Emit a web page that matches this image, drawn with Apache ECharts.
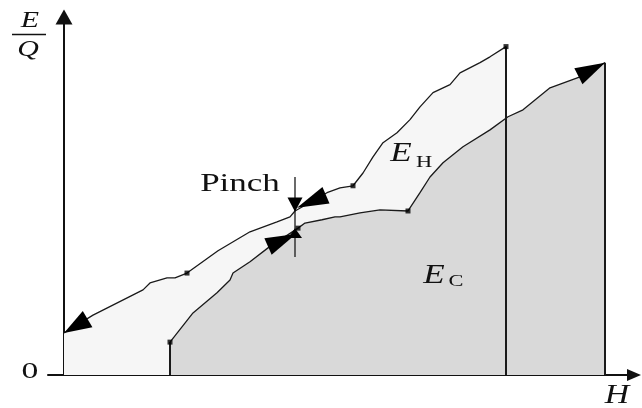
<!DOCTYPE html>
<html>
<head>
<meta charset="utf-8">
<script src="https://cdn.jsdelivr.net/npm/echarts@6/dist/echarts.min.js"></script>
<style>
  html, body { margin: 0; padding: 0; background: #fff; }
  #chart { width: 642px; height: 408px; }
</style>
</head>
<body>
<div id="chart"></div>
<script>
// Hot composite curve E_H (enthalpy H vs. E/Q)
const hotH = [0, 7.25, 19.75, 21.5, 25.75, 27.75, 30.75, 38.5, 46.5, 53.25, 56.5, 57.75, 65.75, 69, 72.25, 74.75, 77.25, 79.75, 83.25, 86.5, 89, 92.25, 96.5, 99, 104, 106.5, 110.5];
const hotE = [11.5, 16.4, 23.3, 25.2, 26.6, 26.6, 27.9, 34.0, 39.2, 41.9, 43.3, 44.9, 49.9, 51.2, 51.8, 55.3, 59.7, 63.6, 66.3, 69.9, 73.4, 77.3, 79.5, 82.7, 85.5, 87.1, 89.9];

// Cold composite curve E_C
const coldH = [26.5, 32.25, 38.25, 41.5, 42.25, 46.5, 51, 58.5, 60.25, 64.5, 67.75, 69, 74, 79, 86, 89, 91.5, 94.75, 99.75, 106.5, 111, 114.75, 121.5, 129, 135.25];
const coldE = [9.0, 17.0, 22.5, 26.0, 27.9, 31.0, 34.8, 40.2, 41.6, 42.5, 43.3, 43.3, 44.4, 45.2, 44.9, 49.9, 54.2, 58.1, 62.5, 67.1, 70.7, 72.6, 78.6, 81.6, 85.5];

// Segment break points on each curve
const hotBreaks = [[30.75, 27.9], [72.25, 51.8], [110.5, 89.9]];
const coldBreaks = [[26.5, 9.0], [58.5, 40.2], [86, 44.9]];

// Flow-direction arrows: tip and base centre, in (H, E/Q)
const arrowTips  = [[0, 11.5], [135.25, 85.5], [58.25, 45.8], [58, 38.6], [57.75, 44.7], [57.75, 40.2]];
const arrowBases = [[5.9, 15.3], [128.6, 81.8], [65.5, 49.2], [51, 35.2], [57.75, 48.6], [57.75, 37.5]];

// Pinch marker
const pinchH = 57.75;
const pinchSpan = [32.3, 54.2];

// Text
const yName = ['E', 'Q'];
const xName = 'H';
const originLabel = '0';
const pinchLabel = 'Pinch';
const hotLabel = ['E', 'H'];
const coldLabel = ['E', 'C'];

// ---- styling ----
const ink = '#1a1a1a';
const hotFill = '#f6f6f6';
const coldFill = '#d9d9d9';
const arrowHalfWidth = [9.5, 9, 9, 9, 7.5, 7];
const serif = '"Liberation Serif", "DejaVu Serif", serif';

const zip = (xs, ys) => xs.map((x, i) => [x, ys[i]]);
const hotData = zip(hotH, hotE);
const coldData = zip(coldH, coldE);
const hotEnd = hotData[hotData.length - 1];
const coldStart = coldData[0];
const coldEnd = coldData[coldData.length - 1];

function txt(text, x, y, size, italic, sx) {
  return {
    type: 'text', x: x, y: y, scaleX: sx || 1.4, z: 100,
    style: {
      text: text,
      font: (italic ? 'italic ' : '') + size + 'px ' + serif,
      fill: '#111',
      align: 'center', verticalAlign: 'middle',
      textAlign: 'center', textVerticalAlign: 'middle'
    }
  };
}

const chart = echarts.init(document.getElementById('chart'), null, { renderer: 'canvas' });

chart.setOption({
  animation: false,
  backgroundColor: '#fff',
  grid: { left: 48, right: 8, top: 17, bottom: 33, containLabel: false },
  xAxis: {
    type: 'value', min: -4, max: 142.5,
    axisLine: { show: true, onZero: true, symbol: ['none', 'triangle'], symbolSize: [12, 14],
      lineStyle: { color: '#111', width: 2 } },
    axisTick: { show: false }, axisLabel: { show: false }, splitLine: { show: false }
  },
  yAxis: {
    type: 'value', min: 0, max: 98,
    axisLine: { show: true, onZero: true, symbol: ['none', 'triangle'], symbolSize: [17, 15],
      lineStyle: { color: '#111', width: 2 } },
    axisTick: { show: false }, axisLabel: { show: false }, splitLine: { show: false }
  },
  series: [
    {
      name: 'hot', type: 'line', data: hotData, z: 2,
      symbol: 'none', smooth: false,
      lineStyle: { color: ink, width: 1.3 },
      areaStyle: { color: hotFill, opacity: 1 }
    },
    {
      name: 'cold', type: 'line', data: coldData, z: 3,
      symbol: 'none', smooth: false,
      lineStyle: { color: ink, width: 1.3 },
      areaStyle: { color: coldFill, opacity: 1 }
    },
    {
      name: 'hotEdge', type: 'line', z: 4, symbol: 'none',
      data: [[hotEnd[0], 0], hotEnd],
      lineStyle: { color: ink, width: 2 }
    },
    {
      name: 'coldEdgeStart', type: 'line', z: 4, symbol: 'none',
      data: [[coldStart[0], 0], coldStart],
      lineStyle: { color: ink, width: 2 }
    },
    {
      name: 'coldEdgeEnd', type: 'line', z: 4, symbol: 'none',
      data: [[coldEnd[0], 0], coldEnd],
      lineStyle: { color: ink, width: 2 }
    },
    {
      name: 'pinchLine', type: 'line', z: 5, symbol: 'none',
      data: [[pinchH, pinchSpan[0]], [pinchH, pinchSpan[1]]],
      lineStyle: { color: ink, width: 1.3 }
    },
    {
      name: 'breaks', type: 'scatter', z: 6,
      data: hotBreaks.concat(coldBreaks),
      symbol: 'rect', symbolSize: 5,
      itemStyle: { color: '#000' }
    },
    {
      name: 'arrows', type: 'custom', z: 7,
      data: arrowTips.map((t, i) => [t[0], t[1], arrowBases[i][0], arrowBases[i][1]]),
      encode: { x: [0, 2], y: [1, 3] },
      renderItem: function (params, api) {
        const t = api.coord([api.value(0), api.value(1)]);
        const b = api.coord([api.value(2), api.value(3)]);
        const dx = b[0] - t[0], dy = b[1] - t[1];
        const len = Math.hypot(dx, dy) || 1;
        const nx = -dy / len, ny = dx / len;
        const hw = arrowHalfWidth[params.dataIndex];
        return {
          type: 'polygon',
          shape: { points: [t, [b[0] + nx * hw, b[1] + ny * hw], [b[0] - nx * hw, b[1] - ny * hw]] },
          style: { fill: '#000' }
        };
      }
    }
  ],
  graphic: [
    txt(yName[0], 30, 21, 23, true, 1.3),
    { type: 'line', z: 100, shape: { x1: 12, y1: 34.5, x2: 46, y2: 34.5 }, style: { stroke: '#111', lineWidth: 1.6 } },
    txt(yName[1], 28, 50, 23, true, 1.3),
    txt(originLabel, 30, 372, 24, false, 1.4),
    txt(xName, 617, 396, 27, true, 1.25),
    txt(pinchLabel, 240, 184, 25, false, 1.4),
    txt(hotLabel[0], 401, 154, 27, true, 1.3),
    txt(hotLabel[1], 424, 163, 16, false, 1.4),
    txt(coldLabel[0], 434, 276, 27, true, 1.3),
    txt(coldLabel[1], 456, 282, 16, false, 1.4)
  ]
});
</script>
</body>
</html>
